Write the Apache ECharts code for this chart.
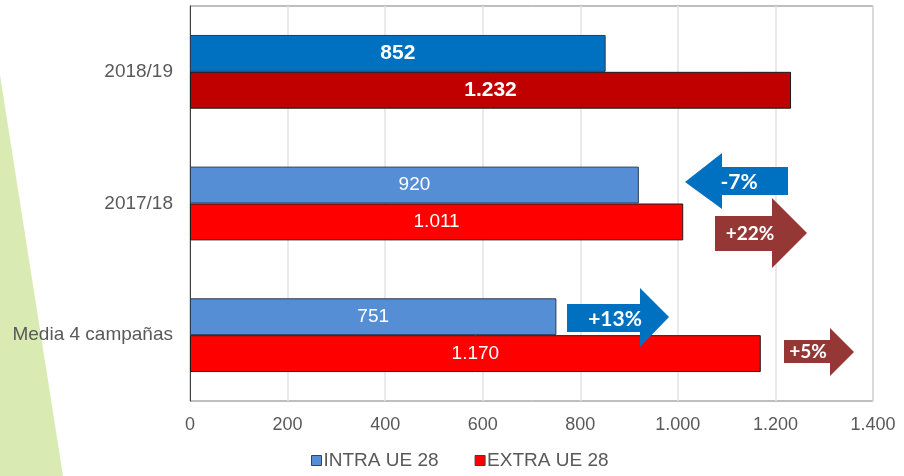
<!DOCTYPE html>
<html>
<head>
<meta charset="utf-8">
<script src="https://cdn.jsdelivr.net/npm/echarts@6/dist/echarts.min.js"></script>
<style>
  html, body { margin: 0; padding: 0; background: #fff; }
  #main { width: 904px; height: 476px; }
</style>
</head>
<body>
<div id="main"></div>
<script>
// categories, top to bottom
const categories = ["2018/19", "2017/18", "Media 4 campañas"];
const intraValues = [852, 920, 751];
const extraValues = [1232, 1011, 1170];
const xTicks = [0, 200, 400, 600, 800, 1000, 1200, 1400];

const fmt = (v) => String(v).replace(/\B(?=(\d{3})+(?!\d))/g, ".");
const pct = (a, b) => {
  const p = Math.round((a - b) / b * 100);
  return (p > 0 ? "+" : "") + p + "%";
};

const chartDom = document.getElementById("main");
const myChart = echarts.init(chartDom);

// current campaign is highlighted with darker colours and bold labels
const makeData = (values, dark, light) =>
  values.map((v, i) => ({
    value: v,
    itemStyle: { color: i === 0 ? dark : light },
    label: i === 0 ? { fontSize: 21, fontWeight: "bold" } : {}
  }));

const arrow = (points, color, text, tx, ty, size) => [
  { type: "polygon", shape: { points: points }, style: { fill: color }, z: 10 },
  {
    type: "text", x: tx, y: ty, z: 11,
    style: {
      text: text, fill: "#fff", font: "bold " + size + "px Lato",
      align: "center", verticalAlign: "middle"
    }
  }
];

const option = {
  animation: false,
  textStyle: { fontFamily: "Liberation Sans" },
  grid: { left: 190, top: 6, right: 31, bottom: 75, show: true, borderColor: "#7f7f7f", borderWidth: 1 },
  legend: {
    top: 446,
    left: 306,
    icon: "rect",
    itemWidth: 10,
    itemHeight: 10,
    itemGap: 36,
    itemStyle: { borderColor: "#404040", borderWidth: 1 },
    textStyle: { color: "#595959", fontSize: 19, padding: [0, 0, 0, -3] },
    data: ["INTRA UE 28", "EXTRA UE 28"]
  },
  xAxis: {
    type: "value",
    min: 0,
    max: 1400,
    interval: 200,
    axisLine: { show: false },
    axisTick: { show: false },
    splitLine: { lineStyle: { color: "#e3e3e3", width: 1.5 } },
    axisLabel: {
      color: "#595959", fontSize: 18, margin: 15,
      formatter: (v) => (xTicks.includes(v) ? fmt(v) : "")
    }
  },
  yAxis: {
    type: "category",
    inverse: true,
    data: categories,
    axisLine: { show: true, lineStyle: { color: "#404040", width: 1 } },
    axisTick: { show: false },
    axisLabel: { color: "#595959", fontSize: 19, margin: 17 }
  },
  series: [
    {
      name: "INTRA UE 28",
      type: "bar",
      color: "#558ed5",
      barGap: "0%",
      barCategoryGap: "44%",
      itemStyle: { borderColor: "#2a3a55", borderWidth: 1 },
      label: { show: true, position: "inside", color: "#fff", fontSize: 19, formatter: (p) => fmt(p.value) },
      data: makeData(intraValues, "#0070c0", "#558ed5")
    },
    {
      name: "EXTRA UE 28",
      type: "bar",
      color: "#ff0000",
      barGap: "0%",
      barCategoryGap: "44%",
      itemStyle: { borderColor: "#1a1a1a", borderWidth: 1 },
      label: { show: true, position: "inside", color: "#fff", fontSize: 19, formatter: (p) => fmt(p.value) },
      data: makeData(extraValues, "#c00000", "#ff0000")
    }
  ],
  graphic: [
    // decorative green wedge on the left
    { type: "polygon", shape: { points: [[0, 75], [63, 476], [0, 476]] }, style: { fill: "#d9ebb3" }, z: -1 },
    ...arrow([[685, 182], [722, 153], [722, 167], [788, 167], [788, 195], [722, 195], [722, 209]],
      "#0070c0", pct(intraValues[0], intraValues[1]), 739, 182, 21),
    ...arrow([[715, 216], [772, 216], [772, 198], [807, 233], [772, 268], [772, 251], [715, 251]],
      "#953735", pct(extraValues[0], extraValues[1]), 750, 234, 19),
    ...arrow([[567, 304], [640, 304], [640, 288], [669, 317], [640, 347], [640, 332], [567, 332]],
      "#0070c0", pct(intraValues[0], intraValues[2]), 615, 319, 21),
    ...arrow([[784, 340], [830, 340], [830, 328], [854, 352], [830, 376], [830, 363], [784, 363]],
      "#953735", pct(extraValues[0], extraValues[2]), 808, 352, 19)
  ]
};

option && myChart.setOption(option);
</script>
</body>
</html>
